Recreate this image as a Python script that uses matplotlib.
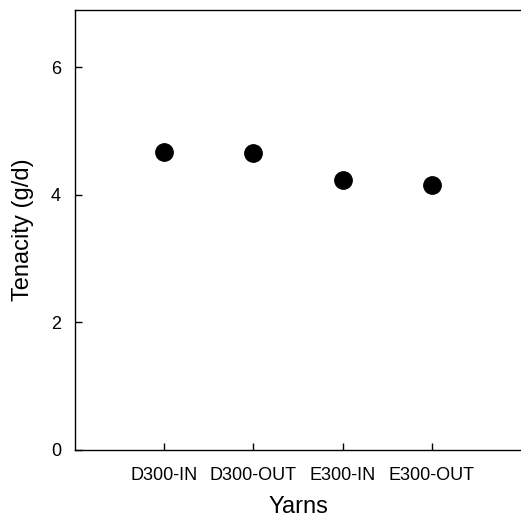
import matplotlib
matplotlib.use('Agg')
import matplotlib.pyplot as plt

yarns = ["D300-IN", "D300-OUT", "E300-IN", "E300-OUT"]
positions = [1, 2, 3, 4]
tenacity = [4.68, 4.65, 4.24, 4.16]

plt.rcParams['font.family'] = ['Liberation Sans', 'DejaVu Sans']

fig = plt.figure(figsize=(5.21, 5.21), dpi=100)
ax = fig.add_axes([75 / 521, 71 / 521, 446 / 521, 440 / 521])

ax.plot(positions, tenacity, 'o', color='black', markersize=12.5, linestyle='none')

ax.set_xlim(0, 5)
ax.set_ylim(0, 6.9)
ax.set_xticks(positions)
ax.set_xticklabels(yarns)
ax.set_yticks([0, 2, 4, 6])

ax.spines['right'].set_visible(False)
for side in ['left', 'bottom', 'top']:
    ax.spines[side].set_linewidth(1.0)

ax.tick_params(direction='in', length=5, width=1.0, labelsize=13)
ax.tick_params(axis='x', pad=12)
ax.tick_params(axis='y', pad=10)

ax.set_xlabel("Yarns", fontsize=17, labelpad=9)
ax.set_ylabel("Tenacity (g/d)", fontsize=17, labelpad=12)

plt.savefig('out.png', dpi=100)
plt.close()
